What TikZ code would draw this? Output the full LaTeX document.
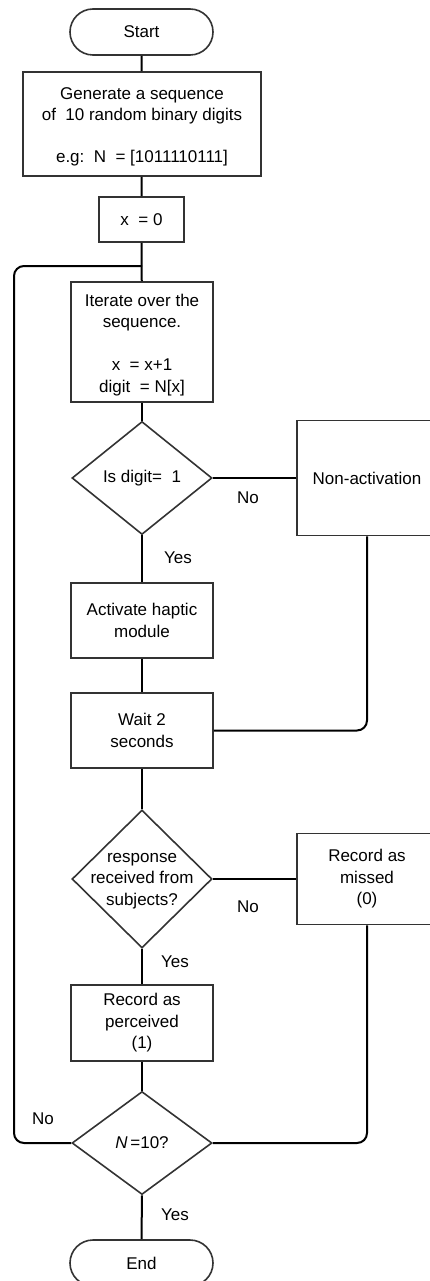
\documentclass[tikz,border=0pt]{standalone}
\usepackage{fontspec}
\setmainfont{Liberation Sans}
\usetikzlibrary{shapes.geometric}
\begin{document}
\begin{tikzpicture}[x=1pt,y=-1pt,
  every node/.style={font=\fontsize{17}{21.5}\selectfont, text=black},
  box/.style={draw=black!80, line width=1.6pt, rectangle, inner sep=0pt, align=center},
  term/.style={box, rounded corners=23pt, minimum width=143pt, minimum height=46pt},
  dia/.style={draw=black!80, line width=1.6pt, diamond, inner sep=0pt, minimum width=140pt},
  link/.style={line width=2pt, black},
  lbl/.style={inner sep=0pt, align=center}
]
\useasboundingbox (0,0) rectangle (430,1281);
\clip (0,0) rectangle (430,1281);

% main column
\node[term] (start) at (141.5,32) {Start};
\node[box, minimum width=238pt, minimum height=104pt] (gen) at (142,124) {};
\node[lbl] (gent) at (142,127)
  {Generate a sequence\\of\ \ 10 random binary digits\\[20.5pt]e.g:\ \ N\ \ = [1011110111]};
\node[box, minimum width=85pt, minimum height=45pt] (x0) at (141.5,219.5) {x\ \ = 0};
\node[box, minimum width=142pt, minimum height=120pt] (iter) at (142,342) {};
\node[lbl] (itert) at (142,345)
  {Iterate over the\\sequence.\\[21.5pt]x\ \ = x+1\\digit\ \ = N[x]};
\node[dia, minimum height=113pt] (d1) at (142,478) {};
\node[lbl] (d1t) at (d1) {Is digit=\ \ 1};
\node[box, minimum width=142pt, minimum height=75pt] (act) at (142,620.5) {Activate haptic\\module};
\node[box, minimum width=142pt, minimum height=75pt] (wait) at (142,730.5) {Wait 2\\seconds};
\node[dia, minimum height=138pt] (d2) at (142,879) {};
\node[lbl] (d2t) at (142,881) {response\\received from\\subjects?};
\node[box, minimum width=142pt, minimum height=76pt] (perc) at (142,1023) {Record as\\perceived\\(1)};
\node[dia, minimum height=103pt] (d3) at (142,1143) {};
\node[lbl] (d3t) at (d3) {\textit{N}\,=10?};
\node[term] (end) at (141.5,1263) {End};

% side branches
\node[box, minimum width=140pt, minimum height=115pt] (nonact) at (367,478) {Non-activation};
\node[box, minimum width=140pt, minimum height=91pt] (missed) at (367,879) {Record as\\missed\\(0)};

% loop junction
\coordinate (loopin) at (142,266);
\coordinate (loopleft) at (14,266);

% connectors
\draw[link] (start) -- (gen);
\draw[link] (gen) -- (x0);
\draw[link] (x0) -- (iter);
\draw[link] (iter) -- (d1);
\draw[link] (d1.east) -- (nonact.west);
\draw[link] (d1.south) -- (act.north);
\draw[link] (act) -- (wait);
\draw[link, rounded corners=10pt] (nonact.south) |- (wait.east);
\draw[link] (wait.south) -- (d2.north);
\draw[link] (d2.east) -- (missed.west);
\draw[link] (d2.south) -- (perc.north);
\draw[link] (perc.south) -- (d3.north);
\draw[link, rounded corners=10pt] (missed.south) |- (d3.east);
\draw[link, rounded corners=10pt] (d3.west) -| (loopleft) -- (loopin);
\draw[link] (d3.south) -- (end.north);

% branch labels
\node[lbl] (no1) at (248,498) {No};
\node[lbl] (yes1) at (178,558) {Yes};
\node[lbl] (no2) at (248,907) {No};
\node[lbl] (yes2) at (175,962) {Yes};
\node[lbl] (no3) at (43,1119) {No};
\node[lbl] (yes3) at (175,1215) {Yes};
\end{tikzpicture}
\end{document}
